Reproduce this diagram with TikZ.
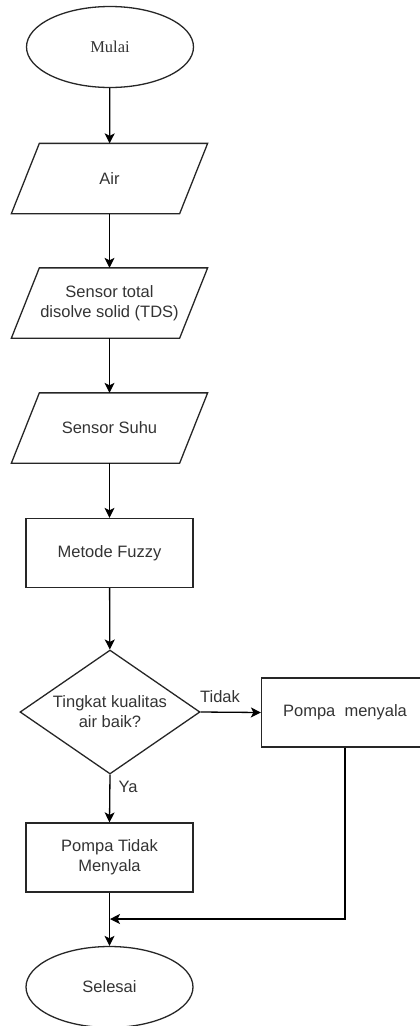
\documentclass[tikz,border=0pt]{standalone}
\usepackage{fontspec}
\setmainfont{Liberation Sans}
\newfontfamily\serifface{Liberation Serif}
\usetikzlibrary{arrows.meta,shapes.geometric}
\begin{document}
\begin{tikzpicture}[x=1pt,y=-1pt,
  every node/.style={font=\fontsize{16.5}{20}\selectfont, text=black!80, align=center, inner sep=0pt},
  terminal/.style={ellipse, draw, minimum width=167pt, minimum height=81pt},
  para/.style={minimum width=195pt, minimum height=69pt},
  procbox/.style={rectangle, draw, minimum width=167pt, minimum height=69pt},
  decision/.style={diamond, draw, minimum width=180pt, minimum height=124pt, aspect=1.45},
  flow/.style={line width=1.3pt, -{Stealth[length=10pt,width=10pt,inset=2.5pt]}},
  shp/.style={line width=1.3pt, draw=black!85},
  lbl/.style={font=\fontsize{16.5}{20}\selectfont}
]
\useasboundingbox (0,0) rectangle (420,1026);
\begin{scope}[every node/.append style={shp}]
\node[terminal, font=\serifface\fontsize{16.5}{20}\selectfont] (mulai) at (110,47) {Mulai};
\node[para, draw=none] (air) at (109.5,178.5) {Air};
\node[para, draw=none] (tds) at (109.5,303) {Sensor total\\disolve solid (TDS)};
\node[para, draw=none] (suhu) at (109.5,428) {Sensor Suhu};
\node[procbox] (fuzzy) at (109.5,553) {Metode Fuzzy};
\node[decision] (dec) at (110,712) {Tingkat kualitas\\air baik?};
\node[procbox] (pm) at (345,712.5) {Pompa~~menyala};
\node[procbox] (ptm) at (109.5,857.5) {Pompa Tidak\\Menyala};
\node[terminal] (selesai) at (109.5,987) {Selesai};
\end{scope}
\foreach \n in {air,tds,suhu}{
  \draw[shp] ([xshift=28pt]\n.north west) -- (\n.north east) -- ([xshift=-28pt]\n.south east) -- (\n.south west) -- cycle;
}
\coordinate (merge) at (110,919);
\draw[flow] (mulai) -- (air);
\draw[flow] (air) -- (tds);
\draw[flow] (tds) -- (suhu);
\draw[flow] (suhu) -- (fuzzy);
\draw[flow] (fuzzy) -- (dec);
\draw[flow] (dec.east) -- (pm.west);
\node[lbl] (tidak) at (220,697) {Tidak};
\draw[flow] (dec.south) -- (ptm.north);
\node[lbl] (ya) at (128,787) {Ya};
\draw[flow] (ptm) -- (selesai);
\draw[flow] (pm.south) |- (merge);
\end{tikzpicture}
\end{document}
